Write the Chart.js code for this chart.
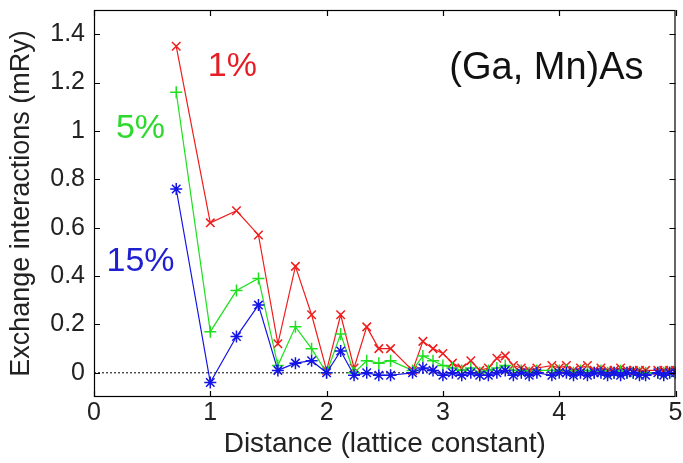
<!DOCTYPE html>
<html>
<head>
<meta charset="utf-8">
<script src="https://cdn.jsdelivr.net/npm/chart.js@4/dist/chart.umd.min.js"></script>
<style>
  html, body { margin: 0; padding: 0; background: #fff; }
</style>
</head>
<body>
<canvas id="chart" width="683" height="463"></canvas>
<script>
// neighbour shell distances (lattice constant units)
const distances = [
  0.707, 1.0, 1.225, 1.414, 1.581, 1.732, 1.871, 2.0, 2.121, 2.236,
  2.345, 2.449, 2.55, 2.739, 2.828, 2.915, 3.0, 3.082, 3.162, 3.24,
  3.317, 3.391, 3.464, 3.536, 3.606, 3.674, 3.742, 3.808, 3.937, 4.0,
  4.062, 4.123, 4.183, 4.243, 4.301, 4.359, 4.416, 4.472, 4.528, 4.583,
  4.637, 4.69, 4.743, 4.848, 4.899, 4.95, 5.0
];
const j1 = [
  1.35, 0.62, 0.67, 0.57, 0.12, 0.44, 0.24, 0.01, 0.24, 0.02,
  0.19, 0.10, 0.10, 0.01, 0.13, 0.10, 0.08, 0.04, 0.02, 0.05,
  0.01, 0.02, 0.06, 0.07, 0.03, 0.02, 0.01, 0.02, 0.03, 0.02,
  0.03, 0.01, 0.02, 0.03, 0.01, 0.02, 0.01, 0.01, 0.02, 0.01,
  0.01, 0.01, 0.01, 0.01, 0.01, 0.01, 0.01
];
const j5 = [
  1.16, 0.17, 0.34, 0.39, 0.03, 0.19, 0.10, 0.00, 0.16, 0.00,
  0.05, 0.04, 0.05, 0.01, 0.07, 0.05, 0.03, 0.02, 0.01, 0.02,
  0.00, 0.01, 0.02, 0.03, 0.01, 0.01, 0.00, 0.01, 0.01, 0.01,
  0.01, 0.00, 0.01, 0.01, 0.00, 0.01, 0.00, 0.00, 0.01, 0.00,
  0.00, 0.00, 0.00, 0.00, 0.00, 0.00, 0.00
];
const j15 = [
  0.76, -0.04, 0.15, 0.28, 0.01, 0.04, 0.05, 0.00, 0.09, -0.01,
  0.00, -0.01, -0.01, 0.00, 0.02, 0.01, -0.01, 0.00, -0.01, 0.00,
  -0.01, -0.01, 0.00, 0.01, -0.01, 0.00, -0.01, 0.00, -0.01, 0.00,
  0.00, -0.01, 0.00, -0.01, 0.00, 0.00, -0.01, 0.00, -0.01, 0.00,
  0.00, -0.01, -0.01, 0.00, -0.01, 0.00, 0.00
];
const xTicks = [0, 1, 2, 3, 4, 5];
const yTicks = [0, 0.2, 0.4, 0.6, 0.8, 1, 1.2, 1.4];

const series = [
  { label: '1%', values: j1, color: '#f01c1c', marker: 'crossRot', order: 3 },
  { label: '5%', values: j5, color: '#1ee01e', marker: 'cross', order: 2 },
  { label: '15%', values: j15, color: '#1414e6', marker: 'star', order: 1 }
];

// text labels placed in data coordinates
const notes = [
  { text: '1%', x: 1.19, y: 1.265, size: 34, color: '#e51d25' },
  { text: '5%', x: 0.40, y: 1.01, size: 34, color: '#2ed92e' },
  { text: '15%', x: 0.40, y: 0.46, size: 34, color: '#1f1fd2' },
  { text: '(Ga, Mn)As', x: 3.89, y: 1.26, size: 38, color: '#111' }
];

const FONT = "'Liberation Sans', Arial, Helvetica, sans-serif";

const datasets = series.map(s => ({
  label: s.label,
  data: distances.map((d, i) => ({ x: d, y: s.values[i] })),
  borderColor: s.color,
  backgroundColor: s.color,
  borderWidth: 1.2,
  pointStyle: s.marker,
  pointRadius: 6,
  pointBorderWidth: 1.5,
  pointBorderColor: s.color,
  order: s.order
}));

datasets.push({
  label: 'zero',
  data: [{ x: 0, y: 0 }, { x: 5, y: 0 }],
  borderColor: '#000',
  borderWidth: 1,
  borderDash: [2, 2],
  pointRadius: 0,
  order: 4
});

const frameAndNotes = {
  id: 'frameAndNotes',
  afterDraw(chart) {
    const { ctx, chartArea: a, scales } = chart;
    ctx.save();
    ctx.strokeStyle = '#000';
    ctx.lineWidth = 1.2;
    ctx.strokeRect(a.left + 0.5, a.top + 0.5, a.right - a.left - 1, a.bottom - a.top - 1);
    ctx.beginPath();
    xTicks.forEach(v => {
      const px = Math.round(scales.x.getPixelForValue(v)) + 0.5;
      ctx.moveTo(px, a.bottom); ctx.lineTo(px, a.bottom - 6);
      ctx.moveTo(px, a.top); ctx.lineTo(px, a.top + 6);
    });
    yTicks.forEach(v => {
      const py = Math.round(scales.y.getPixelForValue(v)) + 0.5;
      ctx.moveTo(a.left, py); ctx.lineTo(a.left + 6, py);
      ctx.moveTo(a.right, py); ctx.lineTo(a.right - 6, py);
    });
    ctx.stroke();

    ctx.textAlign = 'center';
    ctx.textBaseline = 'middle';
    notes.forEach(n => {
      ctx.font = n.size + 'px ' + FONT;
      ctx.fillStyle = n.color;
      ctx.fillText(n.text, scales.x.getPixelForValue(n.x), scales.y.getPixelForValue(n.y));
    });
    ctx.restore();
  }
};

new Chart(document.getElementById('chart'), {
  type: 'line',
  data: { datasets },
  options: {
    responsive: false,
    animation: false,
    layout: { padding: { top: 10, right: 4, left: 0, bottom: 0 } },
    plugins: { legend: { display: false }, tooltip: { enabled: false } },
    scales: {
      x: {
        type: 'linear',
        min: 0, max: 5,
        afterBuildTicks: s => { s.ticks = xTicks.map(v => ({ value: v })); },
        afterFit: s => { s.height = 66; s.paddingLeft = 0; s.paddingRight = 0; },
        grid: { display: false, drawTicks: false },
        border: { display: false },
        ticks: { color: '#222', font: { family: FONT, size: 25 }, padding: 1, maxRotation: 0 },
        title: { display: true, text: 'Distance (lattice constant)', color: '#222',
                 font: { family: FONT, size: 28 }, padding: { top: 0, bottom: 2 } }
      },
      y: {
        type: 'linear',
        min: -0.1, max: 1.5,
        afterBuildTicks: s => { s.ticks = yTicks.map(v => ({ value: v })); },
        afterFit: s => { s.width = 94; s.paddingTop = 0; s.paddingBottom = 0; },
        grid: { display: false, drawTicks: false },
        border: { display: false },
        ticks: { color: '#222', font: { family: FONT, size: 25 }, padding: 9,
                 callback: v => String(v) },
        title: { display: true, text: 'Exchange interactions (mRy)', color: '#222',
                 font: { family: FONT, size: 27 }, padding: { top: 5, bottom: 0 } }
      }
    }
  },
  plugins: [frameAndNotes]
});
</script>
</body>
</html>
